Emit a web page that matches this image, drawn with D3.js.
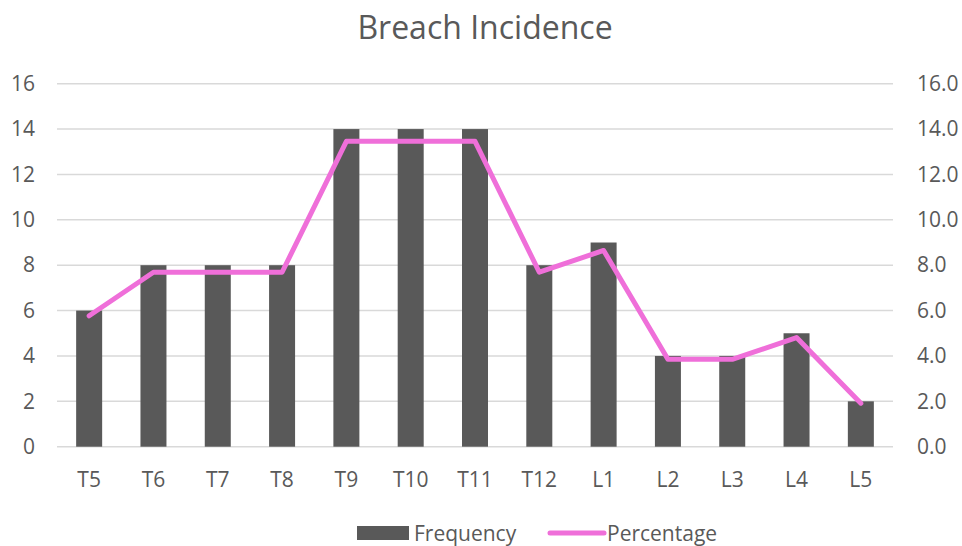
<!DOCTYPE html>
<html><head><meta charset="utf-8">
<script src="https://cdn.jsdelivr.net/npm/d3@7"></script>
<style>body{margin:0;background:#fff}</style>
</head><body>
<svg id="c" width="962" height="546"></svg>
<script>
const categories = ["T5","T6","T7","T8","T9","T10","T11","T12","L1","L2","L3","L4","L5"];
const frequency = [6,8,8,8,14,14,14,8,9,4,4,5,2];
const percentage = [5.77,7.69,7.69,7.69,13.46,13.46,13.46,7.69,8.65,3.85,3.85,4.81,1.92];
const leftTicks = [0,2,4,6,8,10,12,14,16];
const rightTicks = [0,2,4,6,8,10,12,14,16];

const svg = d3.select("#c");
const font = "'Open Sans', 'Liberation Sans', sans-serif";
const textColor = "#595959";
const W = 962, H = 546;
const m = {left:57, right:W-893, top:83.7, bottom:H-446.7};
const xc = d3.scaleBand().domain(categories).range([m.left, W-m.right]);
const y = d3.scaleLinear().domain([0,16]).range([H-m.bottom, m.top]);
const y2 = d3.scaleLinear().domain([0,16]).range([H-m.bottom, m.top]);

// gridlines
svg.append("g").selectAll("line").data(leftTicks).join("line")
  .attr("x1", m.left).attr("x2", W-m.right)
  .attr("y1", d=>y(d)).attr("y2", d=>y(d))
  .attr("stroke", "#d9d9d9").attr("stroke-width", 1.5);

// bars
svg.append("g").selectAll("rect").data(frequency).join("rect")
  .attr("x", (d,i)=>xc(categories[i]) + xc.bandwidth()/2 - 13)
  .attr("width", 26)
  .attr("y", d=>y(d)).attr("height", d=>y(0)-y(d))
  .attr("fill", "#595959");

// line
const line = d3.line().x((d,i)=>xc(categories[i])+xc.bandwidth()/2).y(d=>y2(d));
svg.append("path").datum(percentage).attr("d", line)
  .attr("fill","none").attr("stroke","#ef6fd9").attr("stroke-width",5)
  .attr("stroke-linejoin","round").attr("stroke-linecap","round");

// left axis
const la = svg.append("g").attr("transform",`translate(${m.left},0)`)
  .call(d3.axisLeft(y).tickValues(leftTicks).tickSize(0).tickPadding(22).tickFormat(d3.format("d")));
la.select(".domain").remove();
la.selectAll("text").attr("fill",textColor).style("font-family",font).style("font-size","21px");

// right axis
const ra = svg.append("g").attr("transform",`translate(${W-m.right},0)`)
  .call(d3.axisRight(y2).tickValues(rightTicks).tickSize(0).tickPadding(24).tickFormat(d3.format(".1f")));
ra.select(".domain").remove();
ra.selectAll("text").attr("fill",textColor).style("font-family",font).style("font-size","21px");

// bottom axis
const ba = svg.append("g").attr("transform",`translate(0,${H-m.bottom})`)
  .call(d3.axisBottom(xc).tickSize(0).tickPadding(25));
ba.select(".domain").remove();
ba.selectAll("text").attr("fill",textColor).style("font-family",font).style("font-size","21px");

// title
svg.append("text").attr("x", 485).attr("y", 39).attr("text-anchor","middle")
  .attr("fill",textColor).style("font-family",font).style("font-size","32px").text("Breach Incidence");

// legend
const lg = svg.append("g");
lg.append("rect").attr("x",357).attr("y",526).attr("width",52).attr("height",14).attr("fill","#595959");
lg.append("text").attr("x",414).attr("y",541).attr("fill",textColor).style("font-family",font).style("font-size","21px").text("Frequency");
lg.append("line").attr("x1",550).attr("x2",604).attr("y1",533).attr("y2",533).attr("stroke","#ef6fd9").attr("stroke-width",5).attr("stroke-linecap","round");
lg.append("text").attr("x",607).attr("y",541).attr("fill",textColor).style("font-family",font).style("font-size","21px").text("Percentage");
</script>
</body></html>
